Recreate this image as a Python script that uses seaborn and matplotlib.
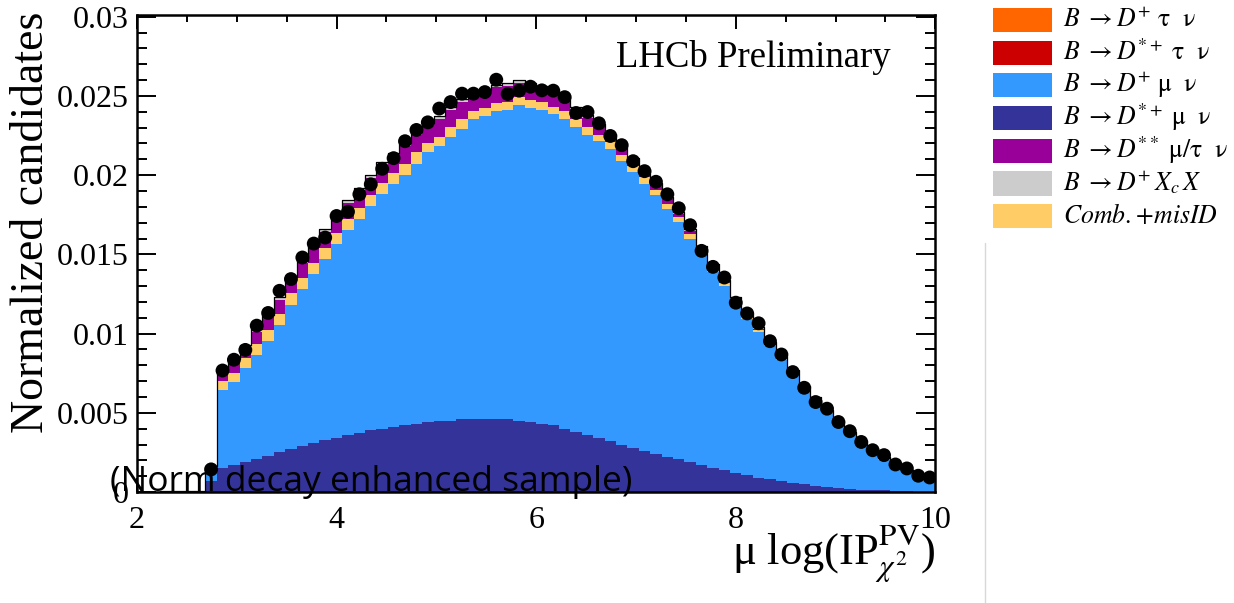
import numpy as np
import pandas as pd
import matplotlib.pyplot as plt
import seaborn as sns
from matplotlib.patches import Rectangle
from matplotlib.lines import Line2D
from matplotlib.ticker import MultipleLocator

sns.set_style('ticks')
plt.rcParams['font.family'] = ['Liberation Serif', 'DejaVu Serif']
plt.rcParams['mathtext.fontset'] = 'stix'
plt.rcParams['text.color'] = 'black'
plt.rcParams['axes.labelcolor'] = 'black'

# 70 bins between 2 and 10
X_MIN, X_MAX, N_BINS = 2, 10, 70

# stacked templates, one value per bin (bins 0..69)
dstar_mu = [0.00003, 0.00003, 0.00004, 0.00005, 0.00006, 0.00008, 0.0007, 0.0015, 0.0017, 0.0019,
            0.0021, 0.0023, 0.0025, 0.0027, 0.0029, 0.0031, 0.0033, 0.0034, 0.0036, 0.0037,
            0.0039, 0.0040, 0.0041, 0.0042, 0.0043, 0.0044, 0.0045, 0.0045, 0.0046, 0.0046,
            0.0046, 0.0046, 0.0046, 0.0045, 0.0044, 0.0043, 0.0042, 0.0040, 0.0038, 0.0036,
            0.0034, 0.0032, 0.0030, 0.0028, 0.0026, 0.0024, 0.0022, 0.0021, 0.0019, 0.0017,
            0.0015, 0.0014, 0.0012, 0.0011, 0.0009, 0.0008, 0.0007, 0.0006, 0.0005, 0.0004,
            0.0003, 0.00025, 0.0002, 0.00015, 0.00012, 0.0001, 0.00007, 0.00005, 0.00003, 0.00002]

d_mu = [0, 0, 0, 0, 0, 0, 0.0006, 0.00493, 0.00523, 0.00593,
        0.00653, 0.00723, 0.00803, 0.00913, 0.00993, 0.01063, 0.01143, 0.01223, 0.01293, 0.01353,
        0.01413, 0.01483, 0.01533, 0.01583, 0.01643, 0.01703, 0.01733, 0.01793, 0.01833, 0.01893,
        0.01913, 0.01943, 0.01953, 0.01993, 0.01983, 0.01983, 0.01963, 0.01953, 0.01923, 0.01893,
        0.01873, 0.01847, 0.01787, 0.01737, 0.01687, 0.01637, 0.01567, 0.01497, 0.01407, 0.01327,
        0.01237, 0.0116, 0.0107, 0.0098, 0.0092, 0.0084, 0.00764, 0.00684, 0.00594, 0.00539,
        0.00469, 0.00409, 0.00344, 0.00289, 0.00242, 0.00194, 0.00157, 0.00119, 0.00091, 0.00072]

comb = [0, 0, 0, 0, 0, 0, 0.0001, 0.0006, 0.0006, 0.0006,
        0.0007, 0.0007, 0.0007, 0.0007, 0.0007, 0.0007, 0.0007, 0.0007, 0.0007, 0.0007,
        0.0007, 0.0007, 0.0007, 0.0007, 0.0007, 0.0006, 0.0006, 0.0006, 0.0006, 0.0005,
        0.0005, 0.0005, 0.0005, 0.0005, 0.0005, 0.0005, 0.0005, 0.0005, 0.0005, 0.0005,
        0.0004, 0.0004, 0.0004, 0.0004, 0.0004, 0.0003, 0.0003, 0.0003, 0.0003, 0.0002,
        0.0002, 0.0002, 0.0002, 0.0002, 0.0001, 0.0001, 0.0001, 0.0001, 0.0001, 0.0001,
        0.0001, 0.00005, 0.00005, 0.00005, 0.00005, 0.00005, 0.00005, 0.00005, 0.00005, 0.00005]

dss = [0, 0, 0, 0, 0, 0, 0.0002, 0.0006, 0.0007, 0.0007,
       0.0008, 0.0008, 0.0009, 0.0009, 0.0009, 0.0010, 0.0010, 0.0010, 0.0010, 0.0011,
       0.0011, 0.0011, 0.0011, 0.0011, 0.0011, 0.0011, 0.0011, 0.0011, 0.0011, 0.0010,
       0.0010, 0.0010, 0.0010, 0.0009, 0.0009, 0.0008, 0.0008, 0.0007, 0.0006, 0.0006,
       0.0005, 0.0004, 0.0004, 0.0004, 0.0003, 0.0003, 0.0003, 0.0002, 0.0002, 0.0002,
       0.0002, 0.0001, 0.0001, 0.0001, 0.0001, 0.0001, 0.0001, 0.0001, 0.0001, 0.00005,
       0.00005, 0.00005, 0.00005, 0.00005, 0.00005, 0.00005, 0.00005, 0.00005, 0.00005, 0.00005]

xcx = [0, 0, 0, 0, 0, 0, 0.00002, 0.00012, 0.00012, 0.00012,
       0.00012, 0.00012, 0.00012, 0.00012, 0.00012, 0.00012, 0.00012, 0.00012, 0.00012, 0.00012,
       0.00012, 0.00012, 0.00012, 0.00012, 0.00012, 0.00012, 0.00012, 0.00012, 0.00012, 0.00012,
       0.00012, 0.00012, 0.00012, 0.00012, 0.00012, 0.00012, 0.00012, 0.00012, 0.00012, 0.00012,
       0.00012, 0.00008, 0.00008, 0.00008, 0.00008, 0.00008, 0.00008, 0.00008, 0.00008, 0.00008,
       0.00008, 0.00008, 0.00008, 0.00008, 0.00008, 0.00008, 0.00004, 0.00004, 0.00004, 0.00004,
       0.00004, 0.00004, 0.00004, 0.00004, 0.00004, 0.00004, 0.00004, 0.00004, 0.00004, 0.00004]

dstar_tau = [0, 0, 0, 0, 0, 0, 0, 0.00003, 0.00003, 0.00003,
             0.00003, 0.00003, 0.00003, 0.00003, 0.00003, 0.00003, 0.00003, 0.00003, 0.00003, 0.00003,
             0.00003, 0.00003, 0.00003, 0.00003, 0.00003, 0.00003, 0.00003, 0.00003, 0.00003, 0.00003,
             0.00003, 0.00003, 0.00003, 0.00003, 0.00003, 0.00003, 0.00003, 0.00003, 0.00003, 0.00003,
             0.00003, 0.00003, 0.00003, 0.00003, 0.00003, 0.00003, 0.00003, 0.00003, 0.00003, 0.00003,
             0.00003, 0.00001, 0.00001, 0.00001, 0.00001, 0.00001, 0.00001, 0.00001, 0.00001, 0.00001,
             0.00001, 0.00001, 0.00001, 0.00001, 0.00001, 0.00001, 0.00001, 0.00001, 0.00001, 0.00001]

d_tau = [0, 0, 0, 0, 0, 0, 0, 0.00002, 0.00002, 0.00002,
         0.00002, 0.00002, 0.00002, 0.00002, 0.00002, 0.00002, 0.00002, 0.00002, 0.00002, 0.00002,
         0.00002, 0.00002, 0.00002, 0.00002, 0.00002, 0.00002, 0.00002, 0.00002, 0.00002, 0.00002,
         0.00002, 0.00002, 0.00002, 0.00002, 0.00002, 0.00002, 0.00002, 0.00002, 0.00002, 0.00002,
         0.00002, 0.00002, 0.00002, 0.00002, 0.00002, 0.00002, 0.00002, 0.00002, 0.00002, 0.00002,
         0.00002, 0.00001, 0.00001, 0.00001, 0.00001, 0.00001, 0.00001, 0.00001, 0.00001, 0.00001,
         0.00001, 0.00001, 0.00001, 0.00001, 0.00001, 0.00001, 0.00001, 0.00001, 0.00001, 0.00001]

nan = np.nan
data = [nan, nan, nan, nan, nan, nan, 0.00143, 0.00767, 0.00835, 0.00897,
        0.0105, 0.0113, 0.0127, 0.01344, 0.0148, 0.01568, 0.01606, 0.01742, 0.01769, 0.01879,
        0.01942, 0.02040, 0.02107, 0.02214, 0.02285, 0.02333, 0.0242, 0.02461, 0.02514, 0.02514,
        0.02524, 0.02602, 0.02512, 0.02533, 0.02558, 0.02535, 0.02533, 0.02492, 0.02392, 0.02398,
        0.02327, 0.02247, 0.02189, 0.02088, 0.02025, 0.01958, 0.01879, 0.01791, 0.01684, 0.01522,
        0.01421, 0.01354, 0.01195, 0.01127, 0.01065, 0.00952, 0.00868, 0.00757, 0.00658, 0.00568,
        0.00526, 0.00442, 0.00384, 0.00316, 0.00264, 0.00233, 0.00174, 0.00149, 0.00103, 0.00092]

# legend order (top to bottom) with labels and colours
legend_keys = ['d_tau', 'dstar_tau', 'd_mu', 'dstar_mu', 'dss', 'xcx', 'comb']
legend_labels = [r'$B\ \rightarrow D^{+}\ \mathrm{\tau}\ \ \mathrm{\nu}$',
                 r'$B\ \rightarrow D^{*+}\ \mathrm{\tau}\ \ \mathrm{\nu}$',
                 r'$B\ \rightarrow D^{+}\ \mathrm{\mu}\ \ \mathrm{\nu}$',
                 r'$B\ \rightarrow D^{*+}\ \mathrm{\mu}\ \ \mathrm{\nu}$',
                 r'$B\ \rightarrow D^{**}\ \mathrm{\mu}/\mathrm{\tau}\ \ \mathrm{\nu}$',
                 r'$B\ \rightarrow D^{+}\,X_{c}\,X$',
                 r'$Comb.\!+\!misID$']
colors = {'d_tau': '#ff6600', 'dstar_tau': '#cc0000', 'd_mu': '#3399ff',
          'dstar_mu': '#333399', 'dss': '#990099', 'xcx': '#cccccc', 'comb': '#ffcc66'}

# seaborn stacks the last hue level at the bottom
stack_order = ['d_tau', 'dstar_tau', 'xcx', 'dss', 'comb', 'd_mu', 'dstar_mu']

y_ticks = [0, 0.005, 0.01, 0.015, 0.02, 0.025, 0.03]
y_tick_labels = ['0', '0.005', '0.01', '0.015', '0.02', '0.025', '0.03']
x_ticks = [2, 4, 6, 8, 10]

templates = {'dstar_mu': dstar_mu, 'd_mu': d_mu, 'comb': comb, 'dss': dss,
             'xcx': xcx, 'dstar_tau': dstar_tau, 'd_tau': d_tau}

edges = np.linspace(X_MIN, X_MAX, N_BINS + 1)
centers = 0.5 * (edges[:-1] + edges[1:])

df = pd.concat([pd.DataFrame({'x': centers, 'w': vals, 'comp': key})
                for key, vals in templates.items()], ignore_index=True)
total = df.groupby('x', as_index=False)['w'].sum()

W, H = 1234, 603
fig = plt.figure(figsize=(W / 100, H / 100), dpi=100)
ax = fig.add_axes([0.111, 0.184, 0.647, 0.791])

sns.histplot(data=df, x='x', weights='w', hue='comp', hue_order=stack_order,
             palette=colors, multiple='stack', bins=N_BINS, binrange=(X_MIN, X_MAX),
             element='step', fill=True, alpha=1, linewidth=0, legend=False, ax=ax)
sns.histplot(data=total, x='x', weights='w', bins=N_BINS, binrange=(X_MIN, X_MAX),
             element='step', fill=False, color='black', linewidth=0.9, ax=ax)
sns.scatterplot(x=centers, y=data, color='black', s=100, edgecolor='none',
                zorder=5, ax=ax)

ax.set_xlim(X_MIN, X_MAX)
ax.set_ylim(0, 0.0301)
ax.set_xticks(x_ticks)
ax.set_xticklabels([str(t) for t in x_ticks])
ax.set_yticks(y_ticks)
ax.set_yticklabels(y_tick_labels)
ax.xaxis.set_minor_locator(MultipleLocator(0.5))
ax.yaxis.set_minor_locator(MultipleLocator(0.001))
ax.tick_params(which='both', direction='in', top=True, right=True, width=1.4,
               color='black', labelsize=23, labelcolor='black')
ax.tick_params(axis='y', which='major', length=14, pad=6)
ax.tick_params(axis='y', which='minor', length=7)
ax.tick_params(axis='x', which='major', length=10, pad=10)
ax.tick_params(axis='x', which='minor', length=5)
for sp in ax.spines.values():
    sp.set_linewidth(1.8)
    sp.set_color('black')

ax.set_xlabel('')
ax.set_ylabel('Normalized candidates', fontsize=33, color='black')
ax.yaxis.set_label_coords(-0.105, 0.566)
ax.text(1.0, -0.153, r'μ log(IP$^{\rm PV}_{\chi^{2}}$)', transform=ax.transAxes,
        ha='right', va='baseline', fontsize=32, color='black')
ax.text(0.944, 0.912, 'LHCb Preliminary', transform=ax.transAxes,
        ha='right', va='center', fontsize=26.5, color='black')

fig.text(110 / W, 1 - 482 / H, '(Norm decay enhanced sample)',
         family=['Open Sans', 'DejaVu Sans'], fontsize=25.5, va='center', ha='left',
         color='black')

# legend on the right, drawn row by row
for i, (key, label) in enumerate(zip(legend_keys, legend_labels)):
    yc = 20 + i * 32.7
    fig.add_artist(Rectangle((993 / W, 1 - (yc + 12) / H), 59 / W, 24 / H,
                             transform=fig.transFigure, facecolor=colors[key],
                             edgecolor='none'))
    fig.text(1063 / W, 1 - (yc + 7) / H, label, fontsize=18.5, ha='left',
             va='baseline', color='black')

fig.add_artist(Line2D([985 / W, 985 / W], [0, 1 - 243 / H],
                      color='#d8d8d8', linewidth=1))

fig.savefig('out.png', dpi=100, facecolor='white')
